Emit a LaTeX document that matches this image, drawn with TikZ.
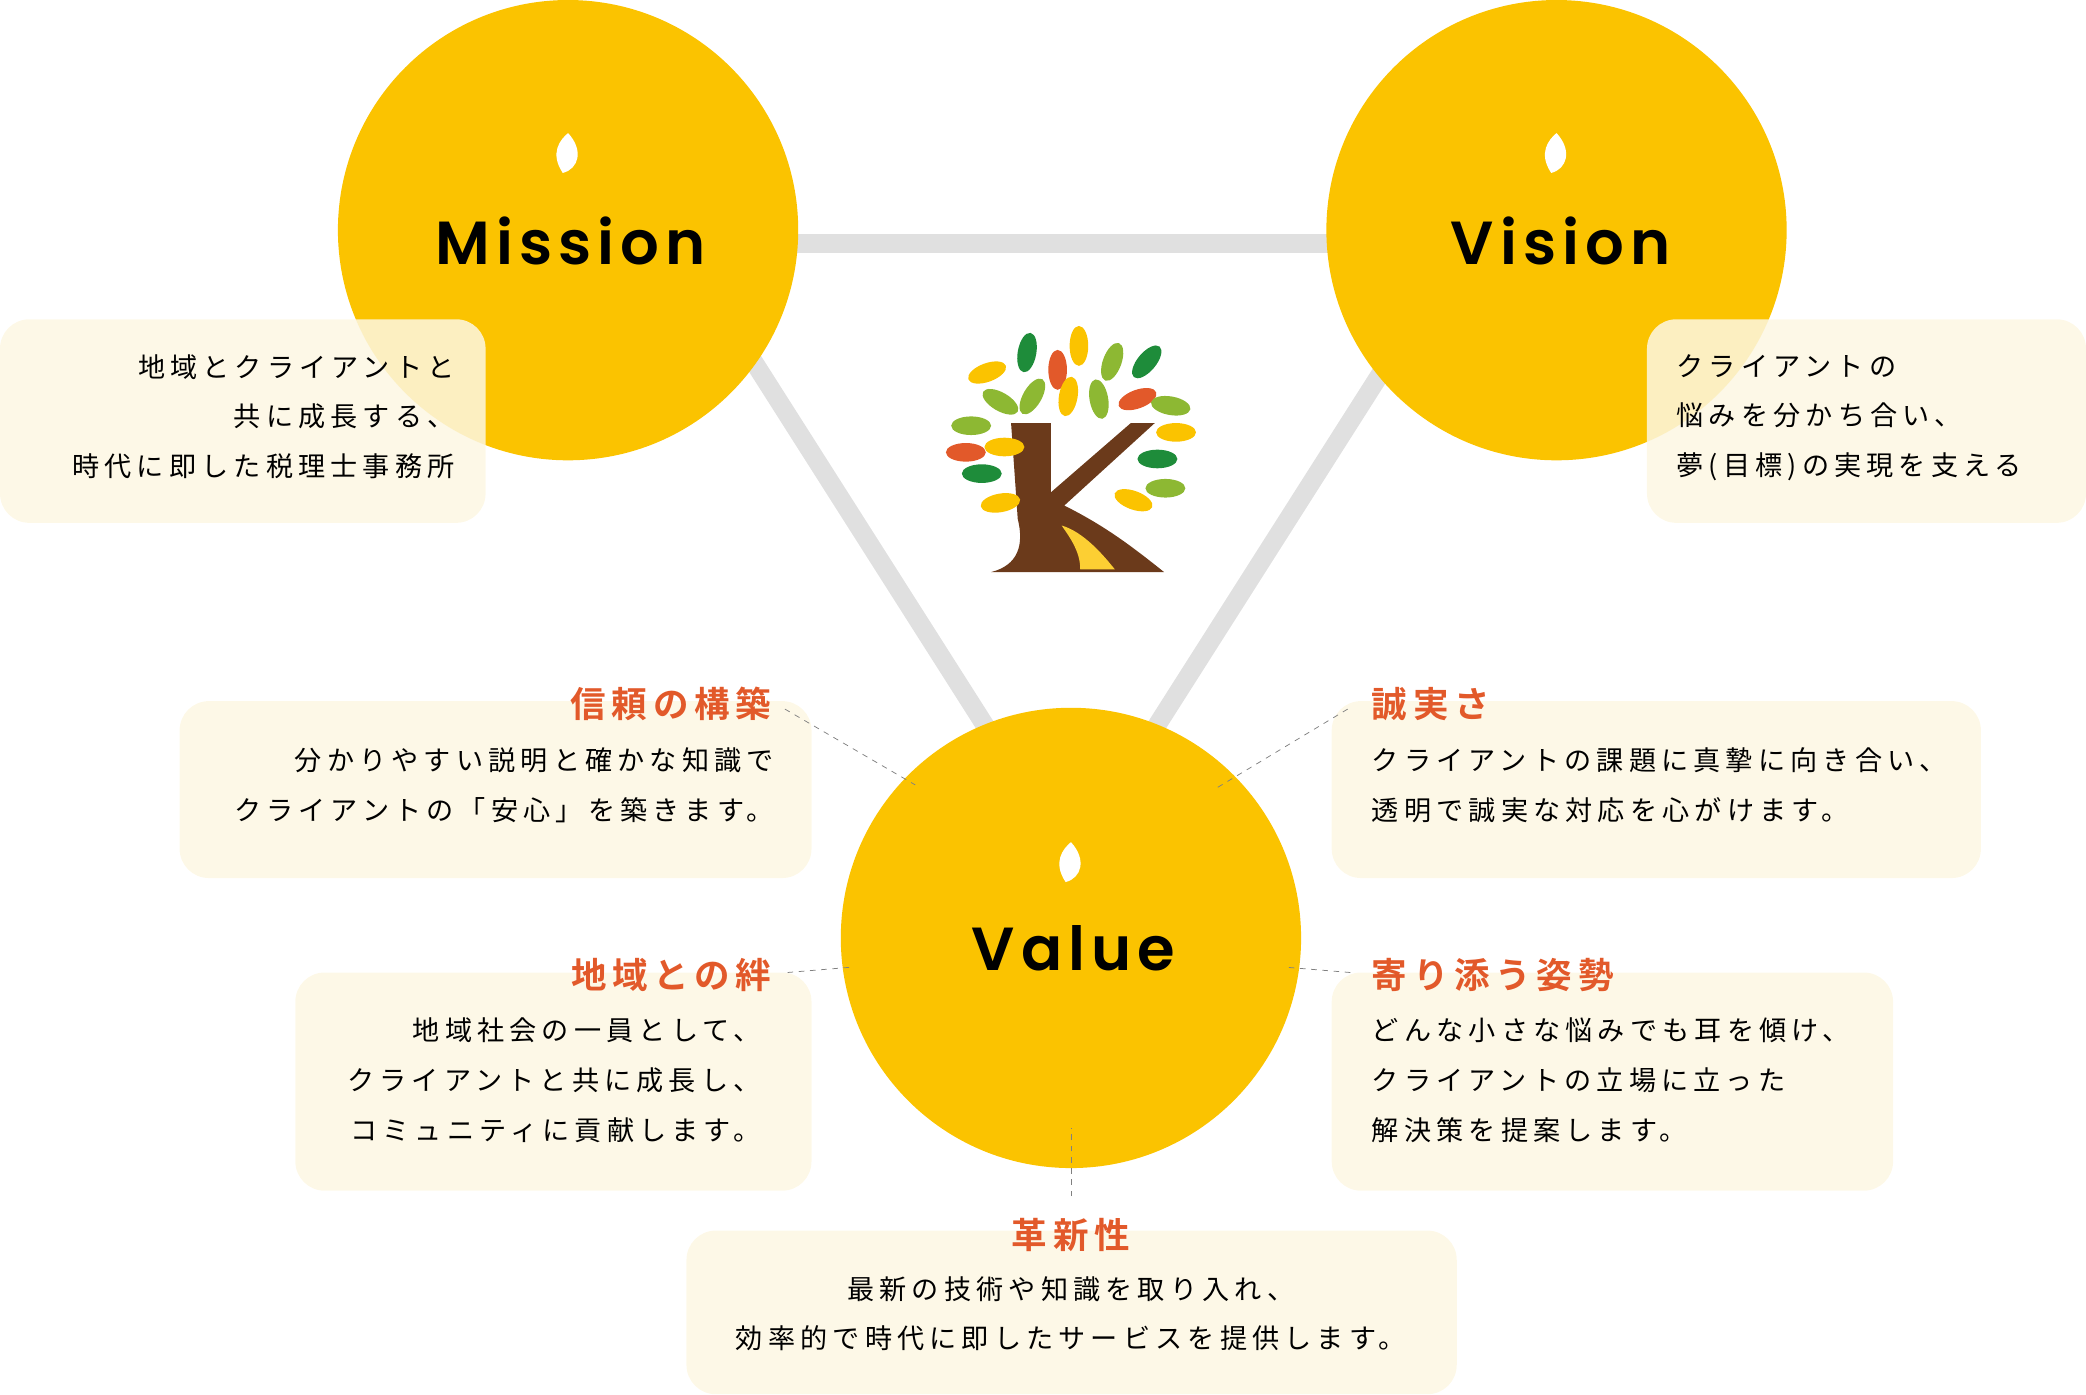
\documentclass[tikz,border=0pt]{standalone}
\usepackage{fontspec}
\setmainfont[LetterSpace=19]{Noto Sans CJK JP}
\newfontfamily\headfont[LetterSpace=10]{Poppins SemiBold}
\newfontfamily\jpbold[LetterSpace=16]{Noto Sans CJK JP Bold}
\usetikzlibrary{positioning}
\definecolor{sun}{HTML}{FBC300}
\definecolor{cream}{HTML}{FDF7E3}
\definecolor{beam}{HTML}{E0E0E0}
\definecolor{rust}{HTML}{E2592A}
\definecolor{bark}{HTML}{6B3A1B}
\definecolor{lgreen}{HTML}{8DB833}
\definecolor{dgreen}{HTML}{1E8C3A}
\begin{document}
\begin{tikzpicture}[x=0.025cm,y=-0.025cm,
    circ/.style={circle, fill=sun, minimum size=346*0.025cm, inner sep=0pt},
    head/.style={font=\headfont\fontsize{32.5}{33}\selectfont},
    card/.style={fill=cream, rounded corners=0.55cm, opacity=0.85},
    body/.style={font=\fontsize{14.5}{26.5}\selectfont, inner sep=0pt},
    ttl/.style={font=\jpbold\fontsize{19}{19}\selectfont, text=rust, inner sep=0pt},
    link/.style={dashed, gray, thin}
  ]
  \useasboundingbox (0,0) rectangle (1568,1048);
  % beams
  \coordinate (m) at (427,183);
  \coordinate (v) at (1170,183);
  \coordinate (ml) at (510,183);
  \coordinate (mr) at (842,705);
  \coordinate (vl) at (1100,183);
  \coordinate (vr) at (768,705);
  \draw[beam, line width=0.35cm] (m) -- (v);
  \draw[beam, line width=0.35cm] (ml) -- (mr);
  \draw[beam, line width=0.35cm] (vl) -- (vr);
  % circles
  \node[circ] (mission) at (427,173) {};
  \node[circ] (vision) at (1170,173) {};
  \node[circ] (value) at (805,705) {};
  \node[head] at (429,181) {Mission};
  \node[head] at (1173,181) {Vision};
  \node[head] at (807,713) {Value};
  \foreach \x/\y in {427/115, 1170/115, 805/648}
    \fill[white] (\x-4,\y+15) .. controls (\x-14,\y) and (\x-6,\y-10) .. (\x,\y-15)
      .. controls (\x+12,\y-2) and (\x+8,\y+12) .. cycle;
  % cards
  \fill[card] (0,240) rectangle (365,393);
  \fill[card] (1238,240) rectangle (1568,393);
  \fill[card] (135,527) rectangle (610,660);
  \fill[card] (1001,527) rectangle (1489,660);
  \fill[card] (222,731) rectangle (610,895);
  \fill[card] (1001,731) rectangle (1423,895);
  \fill[card] (516,925) rectangle (1095,1048);
  % mission / vision
  \node[body, align=right, anchor=north east] (mtext) at (342,266) {地域とクライアントと\\共に成長する、\\時代に即した税理士事務所};
  \node[body, align=left, anchor=north west] (vtext) at (1260,266) {クライアントの\\悩みを分かち合い、\\夢(目標)の実現を支える};
  % values
  \node[ttl, anchor=east] (trust) at (580,529) {信頼の構築};
  \node[body, align=right, anchor=north east] (trusttext) at (582,562) {分かりやすい説明と確かな知識で\\クライアントの「安心」を築きます。};
  \node[ttl, anchor=west] (honest) at (1031,529) {誠実さ};
  \node[body, align=left, anchor=north west] (honesttext) at (1031,562) {クライアントの課題に真摯に向き合い、\\透明で誠実な対応を心がけます。};
  \node[ttl, anchor=east] (bond) at (580,733) {地域との絆};
  \node[body, align=right, anchor=north east] (bondtext) at (572,765) {地域社会の一員として、\\クライアントと共に成長し、\\コミュニティに貢献します。};
  \node[ttl, anchor=west] (care) at (1031,733) {寄り添う姿勢};
  \node[body, align=left, anchor=north west] (caretext) at (1031,765) {どんな小さな悩みでも耳を傾け、\\クライアントの立場に立った\\解決策を提案します。};
  \node[ttl] (innov) at (805,928) {革新性};
  \node[body, align=center, anchor=north] (innovtext) at (805,959) {最新の技術や知識を取り入れ、\\効率的で時代に即したサービスを提供します。};
  % dashed links
  \coordinate (c1) at (688,590);
  \coordinate (c2) at (915,592);
  \coordinate (c3) at (640,727);
  \coordinate (c4) at (966,727);
  \coordinate (c5) at (805,848);
  \draw[link] (trust.east) ++(10,4) -- (c1);
  \draw[link] (honest.west) ++(-18,4) -- (c2);
  \draw[link] (bond.east) ++(12,-2) -- (c3);
  \draw[link] (care.west) ++(-16,-2) -- (c4);
  \draw[link] (innov.north) ++(0,-16) -- (c5);
  % tree logo
  \fill[bark] (760,318) -- (790,318) -- (790,370) -- (850,318) -- (868,318) -- (800,380)
    .. controls (830,395) and (850,410) .. (875,430) -- (745,430) .. controls (765,425) and (770,410) .. (765,390) -- cycle;
  \fill[sun!80] (798,395) .. controls (815,400) and (830,418) .. (838,428) -- (812,428) .. controls (812,415) and (805,405) .. (798,395);
  \foreach \x/\y/\a/\c in {772/265/80/dgreen, 795/278/90/rust, 811/260/90/sun, 836/272/70/lgreen, 862/272/50/dgreen,
      742/280/20/sun, 752/302/-30/lgreen, 776/298/60/lgreen, 803/298/80/sun, 826/300/100/lgreen, 855/300/20/rust,
      880/305/-10/lgreen, 730/320/0/lgreen, 755/336/0/sun, 884/325/0/sun, 726/340/0/rust, 870/345/0/dgreen,
      738/356/0/dgreen, 876/367/0/lgreen, 752/378/10/sun, 852/376/-20/sun}
    \fill[\c, rotate around={\a:(\x,\y)}] (\x,\y) ellipse (15 and 7);
\end{tikzpicture}
\end{document}
